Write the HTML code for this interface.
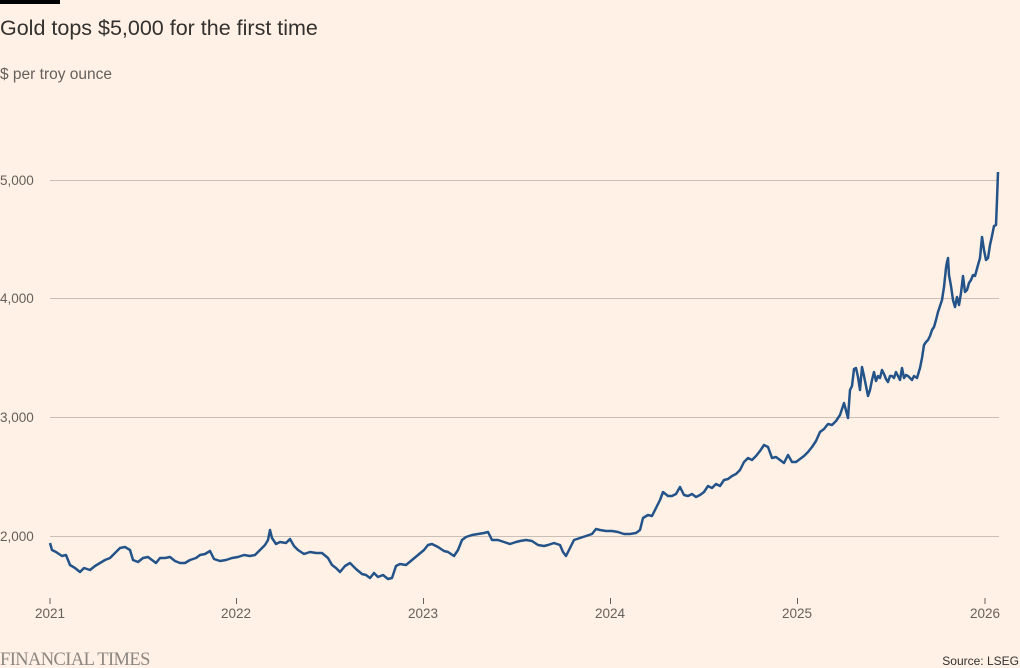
<!DOCTYPE html>
<html><head><meta charset="utf-8"><style>
body{margin:0;background:#fff1e5;width:1020px;height:668px;overflow:hidden;font-family:"Liberation Sans",sans-serif}
</style></head><body>
<svg width="1020" height="668" xmlns="http://www.w3.org/2000/svg" style="position:absolute;left:0;top:0">
<rect x="0" y="0" width="1020" height="668" fill="#fff1e5"/>
<rect x="0" y="0" width="60" height="4" fill="#000"/>
<text x="0" y="35" font-size="21.5" fill="#33302e" font-family="Liberation Sans,sans-serif">Gold tops $5,000 for the first time</text>
<text x="0" y="79" font-size="15.5" fill="#66605c" font-family="Liberation Sans,sans-serif">$ per troy ounce</text>
<g stroke="#c9bfb6" stroke-width="1">
<line x1="50" y1="180.5" x2="999" y2="180.5"/>
<line x1="50" y1="298.5" x2="999" y2="298.5"/>
<line x1="50" y1="417.5" x2="999" y2="417.5"/>
<line x1="50" y1="536.5" x2="999" y2="536.5"/>
</g>
<g font-size="13.5" fill="#66605c" font-family="Liberation Sans,sans-serif">
<text x="0" y="185">5,000</text>
<text x="0" y="303">4,000</text>
<text x="0" y="422">3,000</text>
<text x="0" y="541">2,000</text>
</g>
<g stroke="#66605c" stroke-width="1">
<line x1="50" y1="598" x2="50" y2="604"/><line x1="236.5" y1="598" x2="236.5" y2="604"/><line x1="423.5" y1="598" x2="423.5" y2="604"/><line x1="610.5" y1="598" x2="610.5" y2="604"/><line x1="797.5" y1="598" x2="797.5" y2="604"/><line x1="985" y1="598" x2="985" y2="604"/>
</g>
<g font-size="13.5" fill="#66605c" text-anchor="middle" font-family="Liberation Sans,sans-serif">
<text x="50" y="618">2021</text><text x="236" y="618">2022</text><text x="423" y="618">2023</text><text x="610" y="618">2024</text><text x="797" y="618">2025</text><text x="985" y="618">2026</text>
</g>
<polyline fill="none" stroke="#235389" stroke-width="2.5" stroke-linejoin="round" points="50,543 52,550 56,552 62,556 66,555 70,565 75,568 80,572 84,568 90,570 95,566 100,563 105,560 110,558 115,553 120,548 125,547 130,550 133,560 138,562 143,558 148,557 152,560 156,563 160,558 165,558 170,557 175,561 180,563 185,563 190,560 196,558 200,555 205,554 210,551 214,559 220,561 226,560 232,558 238,557 244,555 250,556 255,555 260,550 265,545 268,540 270,530 272,538 276,544 280,542 286,543 290,539 294,546 298,550 304,554 310,552 316,553 322,553 328,558 332,565 336,568 340,572 345,566 350,563 356,569 362,574 366,575 370,578 374,573 378,577 383,575 388,579 392,578 396,566 400,564 406,565 412,560 418,555 424,550 428,545 432,544 438,547 444,551 448,552 454,556 458,550 462,540 466,537 472,535 478,534 484,533 488,532 492,540 498,540 504,542 510,544 516,542 520,541 526,540 532,541 538,545 544,546 548,545 554,543 560,545 563,552 566,556 570,548 574,540 580,538 586,536 592,534 596,529 600,530 606,531 612,531 618,532 624,534 630,534 636,533 640,530 643,518 648,515 652,516 656,508 660,500 663,492 668,496 672,496 676,494 680,487 684,495 688,496 692,494 696,497 700,495 704,492 708,486 712,488 716,484 720,486 724,480 728,479 732,476 736,474 740,470 744,462 748,458 752,460 756,456 760,451 764,445 768,447 772,458 776,457 780,460 784,463 788,455 792,462 796,462 800,459 804,456 808,452 812,447 816,441 820,432 824,429 828,424 832,425 836,421 840,415 844,403 848,418 850,390 852,386 854,369 856,368 858,377 860,390 862,367 864,376 866,386 868,396 870,390 872,380 874,372 876,381 878,376 880,378 882,370 884,374 886,379 888,382 890,376 892,376 894,378 896,372 898,376 900,380 902,368 904,378 906,375 908,376 910,378 912,380 914,376 917,378 920,368 922,358 924,345 926,342 928,340 930,336 932,330 934,327 936,320 938,312 940,306 942,300 944,287 946,268 947,262 948,258 949,275 951,286 953,300 955,307 957,297 959,305 961,293 963,276 965,292 967,290 969,283 971,280 973,275 975,276 978,265 980,258 982,237 984,250 986,260 988,258 990,245 992,236 994,226 996,225 997,200 998,172"/>
<text x="0" y="665" font-size="18.5" fill="#8c8580" font-family="Liberation Serif,serif" letter-spacing="-0.6">FINANCIAL TIMES</text>
<text x="1019" y="665" font-size="12" fill="#33302e" text-anchor="end" font-family="Liberation Sans,sans-serif">Source: LSEG</text>
</svg>
</body></html>
